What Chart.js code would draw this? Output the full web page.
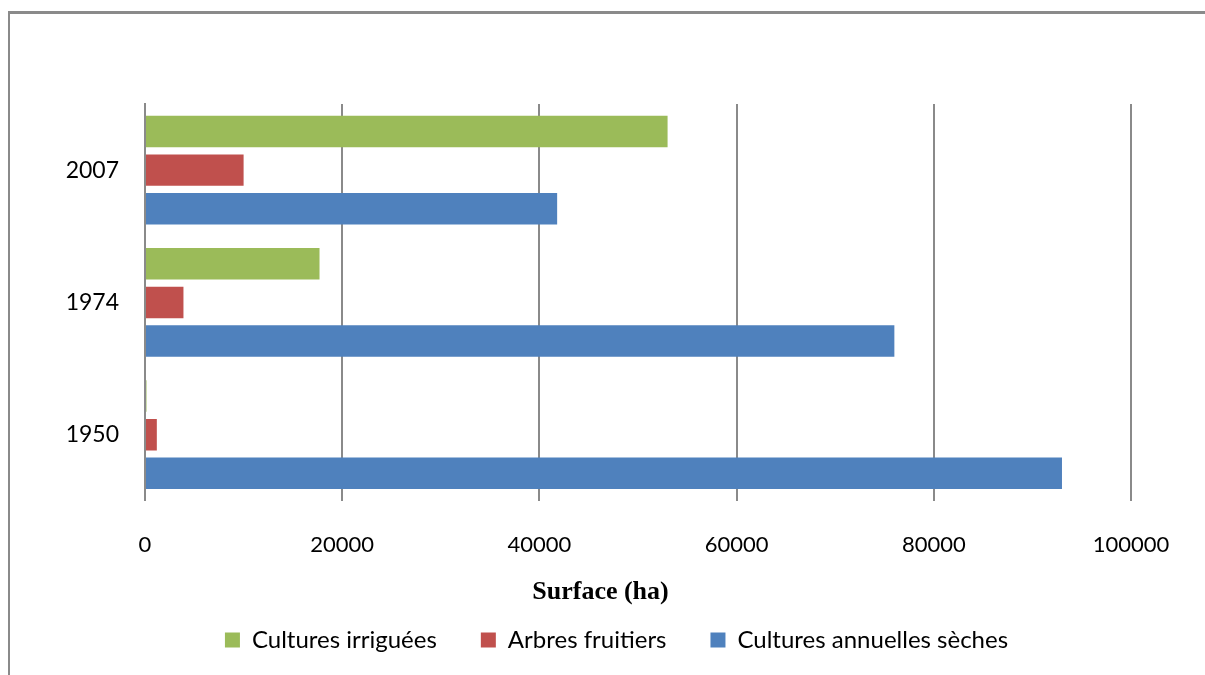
<!DOCTYPE html>
<html>
<head>
<meta charset="utf-8">
<script src="https://cdn.jsdelivr.net/npm/chart.js@4.4.1/dist/chart.umd.min.js"></script>
<style>
    html, body { margin: 0; padding: 0; background: #fff; overflow: hidden; }
    #wrap { position: relative; width: 1205px; height: 675px; }
    #frame {
        position: absolute; left: 8px; top: 11px; width: 1300px; height: 800px;
        border-left: 2px solid #8a8a8a; border-top: 3px solid #8a8a8a;
        pointer-events: none;
    }
    canvas { position: absolute; left: 0; top: 0; }
</style>
</head>
<body>
<div id="wrap">
    <div id="frame"></div>
    <canvas id="chartSurface" width="1205" height="675"></canvas>
</div>
<script>
/*-------------------
    SURFACES PAR ANNEE
--------------------*/

const labels = ['2007', '1974', '1950'];
const irriguees = [53000, 17700, 150];
const fruitiers = [10000, 3900, 1200];
const annuelles = [41800, 76000, 93000];
const xTicks = [0, 20000, 40000, 60000, 80000, 100000];

const txtFont = 'Lato, "Open Sans", sans-serif';
const gridColor = '#8a8a8a';

// legend + axis title are centred a bit to the right of the plot in the original
const shiftBlocks = {
    id: 'shiftBlocks',
    afterLayout(chart) {
        if (chart.legend) { chart.legend.left += 51; chart.legend.right += 51; }
        if (chart.titleBlock) { chart.titleBlock.left += 35; chart.titleBlock.right += 35; }
    }
};

const canvas = document.getElementById('chartSurface');

if(canvas) {
    new Chart(canvas,{
        type: 'bar',
        data:{
            labels: labels,
            datasets:[
                {
                    label: 'Cultures irriguées',
                    data: irriguees,
                    backgroundColor: '#9BBB59',
                },
                {
                    label: 'Arbres fruitiers',
                    data: fruitiers,
                    backgroundColor: '#C0504D',
                },
                {
                    label: 'Cultures annuelles sèches',
                    data: annuelles,
                    backgroundColor: '#4F81BD',
                }
            ]
        },
        options:{
            indexAxis: 'y',
            responsive: false,
            animation: false,
            categoryPercentage: 0.877,
            barPercentage: 0.814,
            layout:{
                padding:{top: 104, right: 74, left: 0, bottom: 13}
            },
            plugins:{
                legend:{
                    position: 'bottom',
                    labels:{
                        boxWidth: 15,
                        boxHeight: 15,
                        padding: 44,
                        color: '#000',
                        font:{family: txtFont, size: 24}
                    }
                },
                title:{
                    display: true,
                    position: 'bottom',
                    weight: 500,
                    text: 'Surface (ha)',
                    color: '#000',
                    padding:{top: 8, bottom: -24},
                    font:{family: '"Liberation Serif", serif', size: 26, weight: 'bold'}
                },
                tooltip:{enabled: false}
            },
            scales:{
                x:{
                    min: 0,
                    max: 100000,
                    afterBuildTicks: (s) => { s.ticks = xTicks.map(v => ({value: v})); },
                    afterFit: (s) => { s.height = 68; },
                    grid:{color: gridColor, lineWidth: 2, drawTicks: false},
                    border:{display: false},
                    ticks:{
                        padding: 31,
                        color: '#000',
                        font:{family: txtFont, size: 22},
                        maxRotation: 0,
                        callback: (v) => String(v)
                    }
                },
                y:{
                    grid:{display: false, drawTicks: false},
                    border:{display: true, color: gridColor, width: 2},
                    afterFit: (s) => { s.width = 145; },
                    ticks:{
                        padding: 26,
                        color: '#000',
                        font:{family: txtFont, size: 23}
                    }
                }
            }
        },
        plugins: [shiftBlocks]
    });
}
</script>
</body>
</html>
